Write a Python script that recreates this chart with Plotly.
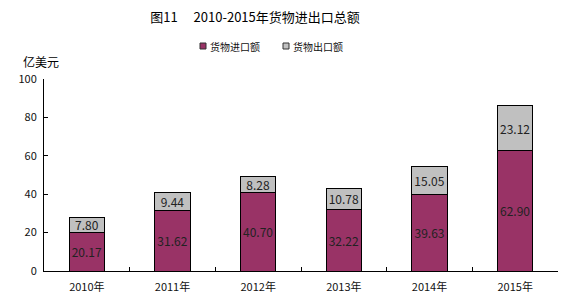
import plotly.graph_objects as go

years = ["2010年", "2011年", "2012年", "2013年", "2014年", "2015年"]
imports = [20.17, 31.62, 40.70, 32.22, 39.63, 62.90]
exports = [7.80, 9.44, 8.28, 10.78, 15.05, 23.12]
y_ticks = [0, 20, 40, 60, 80, 100]
series_names = ["货物进口额", "货物出口额"]
series_colors = ["#993366", "#C0C0C0"]

FONT = "Noto Sans CJK SC"
W, H = 571, 302

fig = go.Figure()
for name, vals, col in zip(series_names, [imports, exports], series_colors):
    fig.add_trace(go.Bar(
        name=name, x=years, y=vals,
        marker=dict(color=col, line=dict(color="#000000", width=1)),
        text=[f"{v:.2f}" for v in vals], textposition="inside",
        insidetextanchor="middle", textangle=0, constraintext="none",
        textfont=dict(family=FONT, size=12, color="#222222"),
        showlegend=False,
    ))

fig.update_layout(
    width=W, height=H,
    margin=dict(l=44, r=13, t=79, b=31, autoexpand=False),
    barmode="stack", bargap=0.59,
    plot_bgcolor="white", paper_bgcolor="white",
    font=dict(family=FONT, size=11, color="#111111"),
    title=dict(text="图11　 2010-2015年货物进出口总额", x=255/W, xanchor="center",
               y=1 - 17/H, yanchor="middle",
               font=dict(family=FONT, size=13, color="#000000")),
    showlegend=False,
)
fig.update_xaxes(
    showline=True, linecolor="#000000", linewidth=1, automargin=False,
    ticks="inside", ticklen=4, tickcolor="#000000", tickson="boundaries",
    showgrid=False, ticklabelstandoff=6,
    tickfont=dict(family=FONT, size=11, color="#111111"),
)
fig.update_yaxes(
    range=[0, 100], tickvals=y_ticks, ticktext=[str(v) for v in y_ticks],
    showline=True, linecolor="#000000", linewidth=1, automargin=False,
    ticks="inside", ticklen=4, tickcolor="#000000",
    showgrid=False, zeroline=False, ticklabelstandoff=4,
    tickfont=dict(family=FONT, size=11, color="#111111"),
)
fig.add_annotation(text="亿美元", xref="paper", yref="paper",
                   x=(41 - 44) / 514, y=1 + 17 / 192, xanchor="center", yanchor="middle",
                   showarrow=False, font=dict(family=FONT, size=12, color="#000000"))

# legend drawn manually (small square + label)
legend_x = [200, 283]
for lx, name, col in zip(legend_x, series_names, series_colors):
    fig.add_shape(type="rect", xref="paper", yref="paper",
                  x0=(lx - 44) / 514, x1=(lx + 6 - 44) / 514,
                  y0=(H - 49 - 31) / 192, y1=(H - 43 - 31) / 192,
                  fillcolor=col, line=dict(color="#333333", width=1))
    fig.add_annotation(text=name, xref="paper", yref="paper",
                       x=(lx + 8 - 44) / 514, y=(H - 46 - 31) / 192,
                       xanchor="left", yanchor="middle", showarrow=False,
                       font=dict(family=FONT, size=10, color="#111111"))

fig.write_html("out.html")
